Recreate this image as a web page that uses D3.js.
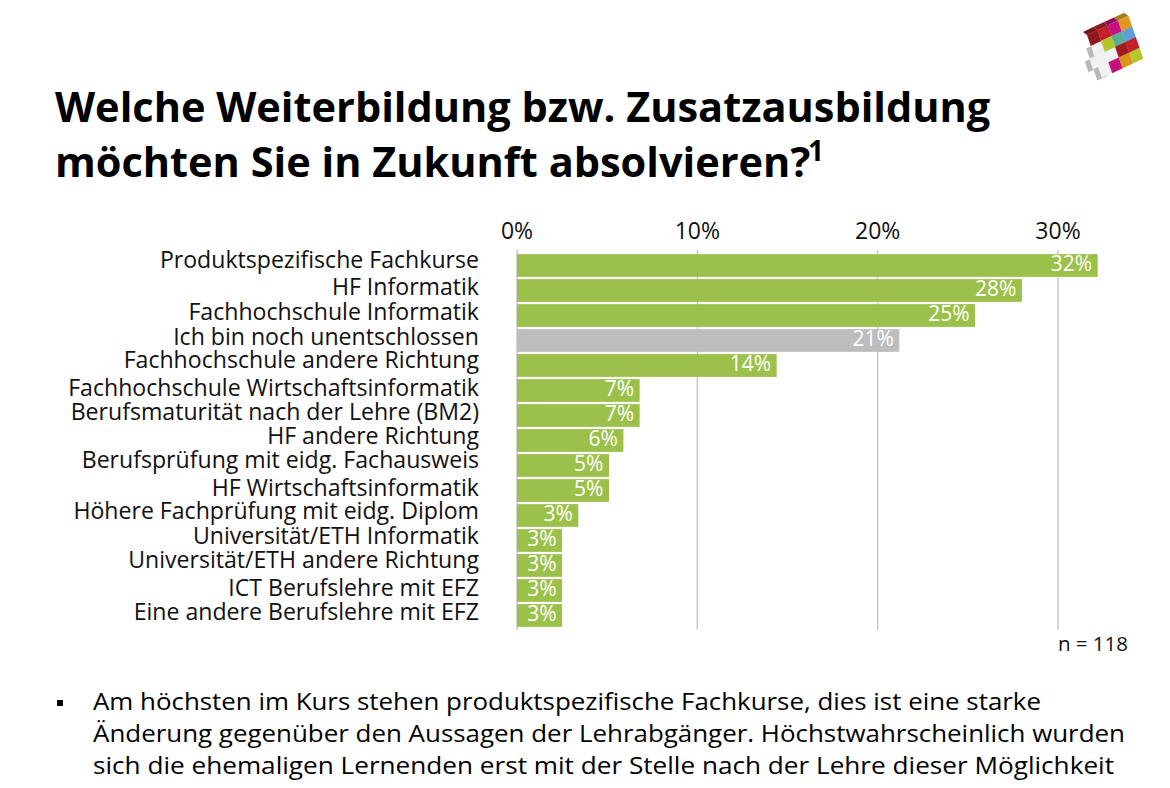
<!DOCTYPE html>
<html><head><meta charset="utf-8"><script src="https://cdnjs.cloudflare.com/ajax/libs/d3/7.8.5/d3.min.js"></script>
<style>html,body{margin:0;padding:0;background:#fff;overflow:hidden}svg{display:block}text{font-family:"Open Sans",sans-serif}</style></head><body><div id="c"></div>
<script>
const categories=["Produktspezifische Fachkurse","HF Informatik","Fachhochschule Informatik","Ich bin noch unentschlossen","Fachhochschule andere Richtung","Fachhochschule Wirtschaftsinformatik","Berufsmaturität nach der Lehre (BM2)","HF andere Richtung","Berufsprüfung mit eidg. Fachausweis","HF Wirtschaftsinformatik","Höhere Fachprüfung mit eidg. Diplom","Universität/ETH Informatik","Universität/ETH andere Richtung","ICT Berufslehre mit EFZ","Eine andere Berufslehre mit EFZ"];
const values=[32.2,28.0,25.4,21.2,14.4,6.8,6.8,5.9,5.1,5.1,3.4,2.5,2.5,2.5,2.5];
const shownLabels=["32%","28%","25%","21%","14%","7%","7%","6%","5%","5%","3%","3%","3%","3%","3%"];
const tickValues=[0,10,20,30];
const titleLines=["Welche Weiterbildung bzw. Zusatzausbildung","möchten Sie in Zukunft absolvieren?"];
const bodyLines=["Am höchsten im Kurs stehen produktspezifische Fachkurse, dies ist eine starke","Änderung gegenüber den Aussagen der Lehrabgänger. Höchstwahrscheinlich wurden","sich die ehemaligen Lernenden erst mit der Stelle nach der Lehre dieser Möglichkeit","beschäftigen."];
const bodyWidths=[948,1032,1021,150];
const logoColors=[["#8e1a1e","#c4202a","#c80f7f","#e0981e"],[null,"#b2c62c","#5cae90","#5f9ed8"],[null,null,"#9e1c20","#c4202a"],[null,"#c80f7f","#d8951e","#b4c82e"]];
const logoTop=["#7a1518","#8e1a1e","#8e1060","#a87a1a"];
const labelShift=[-4.5,-2.5,-2.5,-2.5,-4.5,-1.5,-2.5,-3.5,-4.5,-1.5,-3.5,-3.5,-4.5,-1.5,-2.5];

const svg=d3.select("#c").append("svg").attr("width",1170).attr("height",788);
const x=d3.scaleLinear().domain([0,30]).range([517,1058]);
const y=d3.scaleBand().domain(categories).range([253,628]).paddingInner(0.09).paddingOuter(0.045);
svg.append("g").selectAll("line").data(tickValues).join("line")
 .attr("x1",d=>x(d)).attr("x2",d=>x(d)).attr("y1",250).attr("y2",630)
 .attr("stroke","#c8c8c8").attr("stroke-width",1.5);
svg.append("g").selectAll("text").data(tickValues).join("text")
 .attr("x",d=>x(d)).attr("y",239).attr("text-anchor","middle").attr("font-size",23).attr("fill","#111").text(d=>d+"%");
svg.append("g").selectAll("rect").data(categories).join("rect")
 .attr("x",x(0)).attr("y",d=>y(d)).attr("width",(d,i)=>x(values[i])-x(0)).attr("height",y.bandwidth())
 .attr("fill",(d,i)=>d.startsWith("Ich bin")?"#bdbdbd":"#9bc14a");
svg.append("g").selectAll("text").data(categories).join("text")
 .attr("x",479).attr("y",(d,i)=>y(d)+y.bandwidth()/2+7+labelShift[i]).attr("text-anchor","end").attr("font-size",23.1).attr("fill","#111").text(d=>d);
svg.append("g").selectAll("text").data(categories).join("text")
 .attr("x",(d,i)=>x(values[i])-5.5).attr("y",d=>y(d)+y.bandwidth()/2+5).attr("text-anchor","end").attr("font-size",21).attr("fill","#fff").text((d,i)=>shownLabels[i]);
const t=svg.append("text").attr("font-weight",700).attr("font-size",41.5).attr("fill","#000");
titleLines.forEach((l,i)=>t.append("tspan").attr("x",55).attr("y",122+i*55).text(l));
svg.append("text").attr("x",808).attr("y",161).attr("font-weight",700).attr("font-size",28).text("1");
svg.append("text").attr("x",1128).attr("y",651).attr("text-anchor","end").attr("font-size",20.5).attr("fill","#111").text("n = 118");
svg.append("rect").attr("x",57).attr("y",700).attr("width",6).attr("height",6).attr("fill","#000");
svg.append("g").selectAll("text").data(bodyLines).join("text").attr("x",93).attr("y",(d,i)=>710+i*32)
 .attr("font-size",24.5).attr("fill","#000").attr("textLength",(d,i)=>bodyWidths[i]).attr("lengthAdjust","spacingAndGlyphs").text(d=>d);
const logo=svg.append("g").attr("transform","matrix(10.3,-4.8,3.7,10.7,1087,35)");
const cross="M0 1L1 1L1 2L2 2L2 3L1 3L1 4L0 4L0 3L-.5 3L-.5 2L0 2Z";
logo.append("path").attr("d",cross).attr("fill","#b8b8b8").attr("transform","translate(-.45,.05)");
logo.append("path").attr("d",cross).attr("fill","#f1f1f1");
logoColors.forEach((row,r)=>row.forEach((c,k)=>{if(c)logo.append("rect").attr("x",k).attr("y",r).attr("width",1.02).attr("height",1.02).attr("fill",c);}));
logoTop.forEach((c,k)=>logo.append("path").attr("d",`M${k} 0L${k+1} 0L${k+.75} -.4L${k-.25} -.4Z`).attr("fill",c));
</script></body></html>
